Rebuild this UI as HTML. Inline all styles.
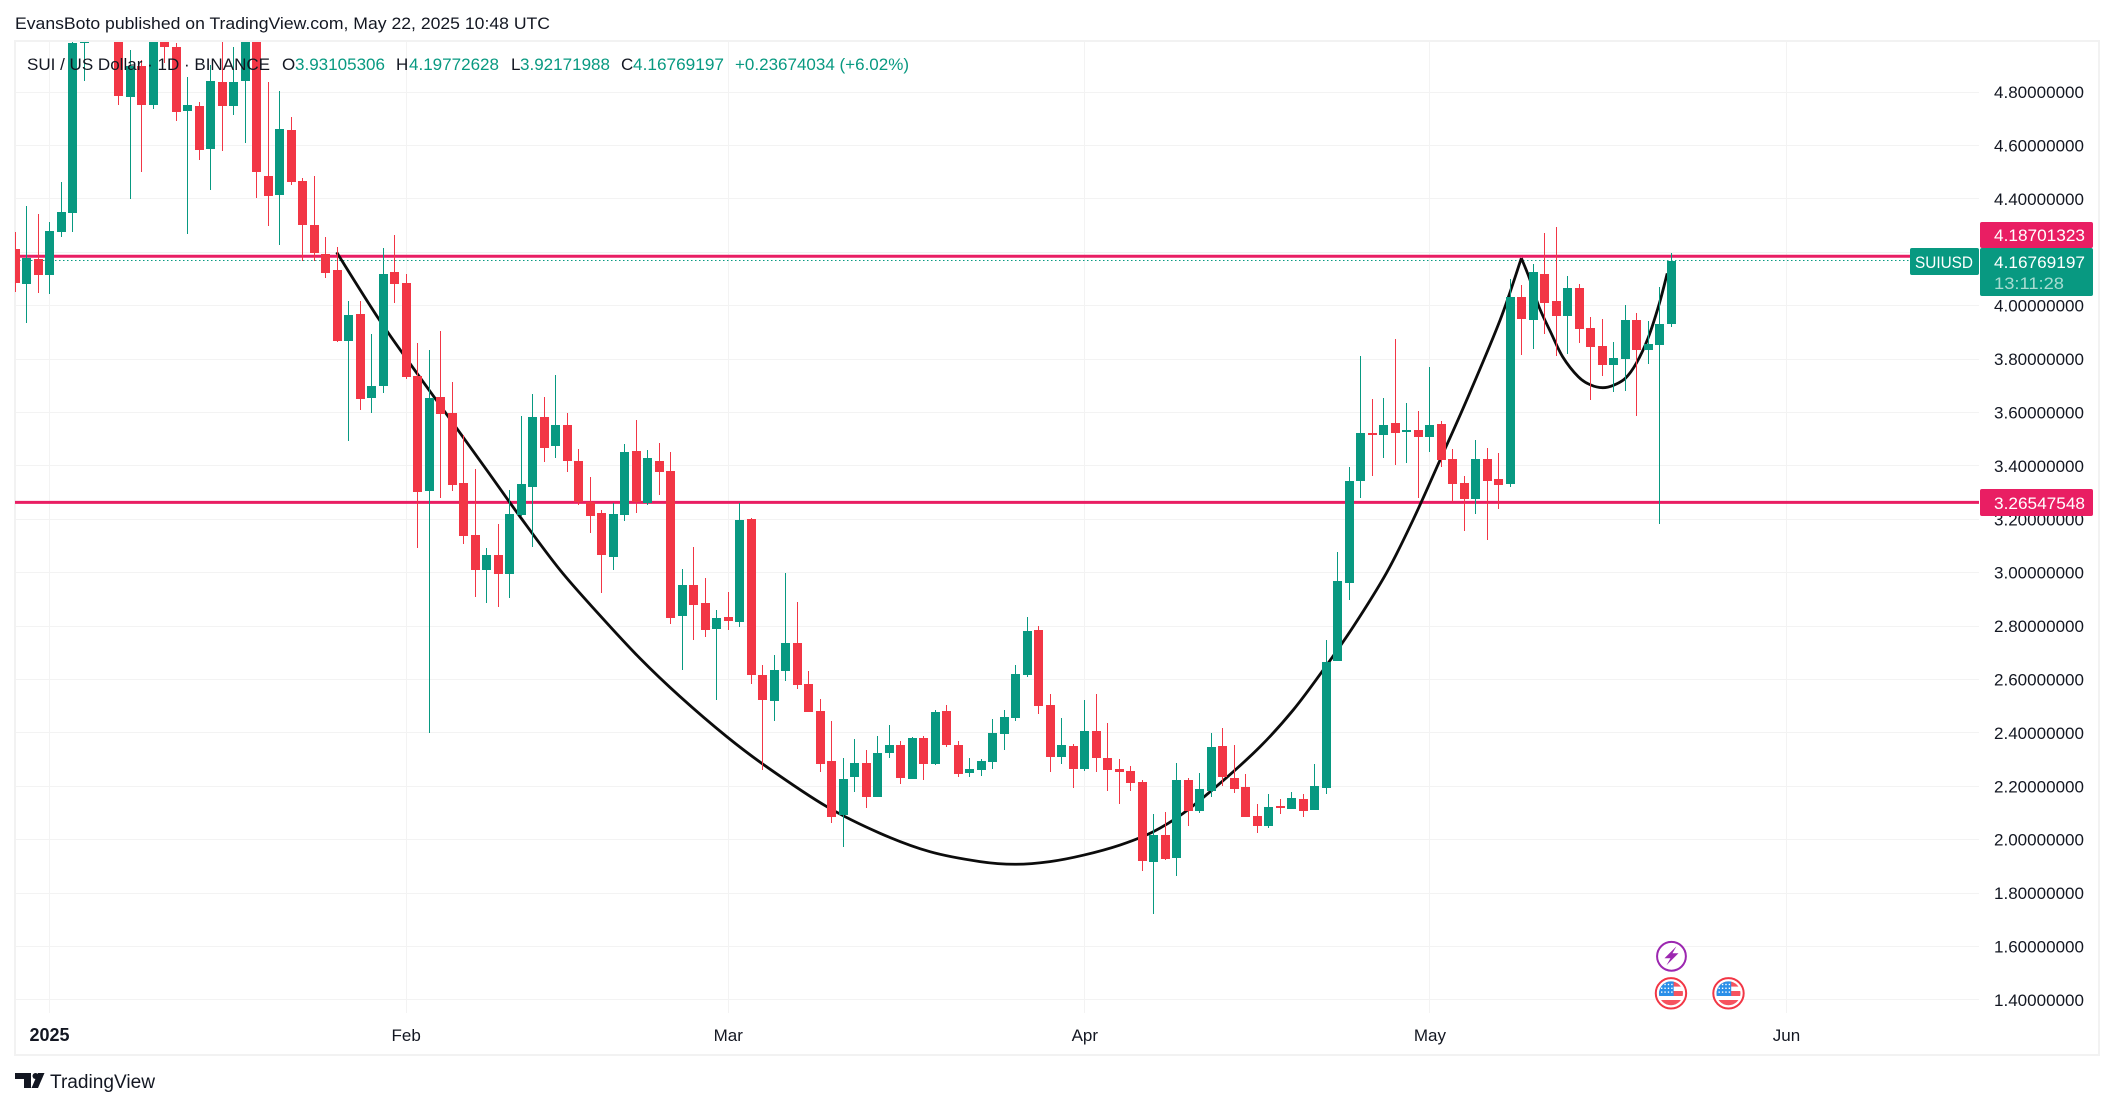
<!DOCTYPE html>
<html lang="en">
<head>
<meta charset="utf-8">
<title>SUI / US Dollar chart</title>
<style>
html,body{margin:0;padding:0;background:#fff;}
body{width:2114px;height:1108px;overflow:hidden;}
svg{display:block;}
text{font-family:"Liberation Sans",sans-serif;}
</style>
</head>
<body>
<svg id="chart" xmlns="http://www.w3.org/2000/svg" width="2114" height="1108" viewBox="0 0 2114 1108">
  <defs>
    <clipPath id="pane-clip"><rect x="15" y="42" width="1964" height="971"></rect></clipPath>
    <clipPath id="flag-clip"><circle cx="0" cy="0" r="12"></circle></clipPath>
  </defs>
  <text x="15" y="29" font-size="17" fill="#131722" textLength="535" lengthAdjust="spacingAndGlyphs">EvansBoto published on TradingView.com, May 22, 2025 10:48 UTC</text>
  <rect x="15" y="41" width="2084" height="1014" fill="#fff" stroke="#f2f2f2" stroke-width="2"></rect>
  <g id="grid"></g>
  <g clip-path="url(#pane-clip)">
    <g id="levels"></g>
    <g id="cup"></g>
    <g id="candles"></g>
  </g>
  <g id="events"></g>
  <g font-size="17">
    <text x="27" y="70" fill="#131722" textLength="243" lengthAdjust="spacingAndGlyphs">SUI / US Dollar · 1D · BINANCE</text>
    <text x="282" y="70" fill="#131722">O</text>
    <text x="295" y="70" fill="#089981" textLength="90" lengthAdjust="spacingAndGlyphs">3.93105306</text>
    <text x="396" y="70" fill="#131722">H</text>
    <text x="409" y="70" fill="#089981" textLength="90" lengthAdjust="spacingAndGlyphs">4.19772628</text>
    <text x="511" y="70" fill="#131722">L</text>
    <text x="520" y="70" fill="#089981" textLength="90" lengthAdjust="spacingAndGlyphs">3.92171988</text>
    <text x="621" y="70" fill="#131722">C</text>
    <text x="633" y="70" fill="#089981" textLength="91" lengthAdjust="spacingAndGlyphs">4.16769197</text>
    <text x="735" y="70" fill="#089981" textLength="174" lengthAdjust="spacingAndGlyphs">+0.23674034 (+6.02%)</text>
  </g>
  <g id="price-axis"></g>
  <g id="time-axis"></g>
  <g id="tags"></g>
  <g>
    <polygon points="15,1073 31,1073 31,1088 24,1088 24,1079 15,1079" fill="#131722"></polygon>
    <circle cx="35.5" cy="1076" r="3" fill="#131722"></circle>
    <polygon points="38,1073 44.5,1073 38,1088 31.5,1088" fill="#131722"></polygon>
    <text x="50" y="1088" font-size="19" fill="#131722" textLength="105" lengthAdjust="spacingAndGlyphs">TradingView</text>
  </g>
</svg>
<script>
var firstDay = -3;
var opens = [4.212,4.082,4.175,4.116,4.277,4.348,4.985,5.30,5.20,5.35,4.783,4.898,4.753,5.10,4.969,4.729,4.748,4.588,4.838,4.749,4.843,5.05,4.486,4.416,4.658,4.467,4.302,4.194,4.134,3.869,3.969,3.655,3.700,4.126,4.085,3.737,3.307,3.658,3.598,3.336,3.141,3.011,3.066,2.996,3.216,3.322,3.583,3.476,3.553,3.418,3.266,3.224,3.060,3.217,3.456,3.261,3.418,3.381,2.839,2.954,2.887,2.790,2.834,2.817,3.201,2.617,2.521,2.633,2.737,2.583,2.482,2.295,2.094,2.236,2.287,2.161,2.326,2.355,2.229,2.381,2.284,2.482,2.355,2.251,2.262,2.292,2.397,2.457,2.618,2.785,2.505,2.311,2.351,2.266,2.407,2.306,2.265,2.257,2.216,1.918,2.018,1.933,2.224,2.109,2.184,2.351,2.231,2.198,2.089,2.053,2.126,2.116,2.153,2.113,2.195,2.671,2.963,3.345,3.523,3.517,3.561,3.528,3.535,3.509,3.557,3.426,3.336,3.277,3.426,3.351,3.333,4.033,3.946,4.119,4.018,3.961,4.066,3.916,3.849,3.778,3.800,3.946,3.834,3.853,3.93105306];
var highs = [4.277,4.373,4.343,4.313,4.463,5.003,5.30,5.40,5.45,5.40,4.958,4.920,5.15,5.15,4.984,4.856,4.763,4.901,4.991,4.969,5.15,5.15,4.838,4.804,4.707,4.478,4.486,4.257,4.220,4.018,4.018,3.894,4.216,4.265,4.119,3.860,3.834,3.905,3.714,3.516,3.388,3.093,3.182,3.310,3.587,3.669,3.658,3.740,3.598,3.463,3.358,3.235,3.261,3.482,3.572,3.460,3.486,3.452,3.014,3.096,2.980,2.860,2.928,3.261,3.205,2.654,2.692,2.999,2.890,2.632,2.527,2.445,2.306,2.377,2.336,2.388,2.430,2.370,2.385,2.388,2.486,2.505,2.370,2.306,2.302,2.452,2.486,2.654,2.834,2.800,2.546,2.456,2.359,2.523,2.546,2.437,2.302,2.276,2.224,2.096,2.104,2.287,2.231,2.250,2.400,2.418,2.355,2.246,2.134,2.171,2.153,2.179,2.171,2.284,2.748,3.078,3.396,3.812,3.651,3.654,3.875,3.636,3.606,3.770,3.568,3.463,3.362,3.497,3.467,3.448,4.100,4.078,4.156,4.272,4.295,4.111,4.081,3.958,3.950,3.864,4.003,3.973,3.943,4.070,4.19772628];
var lows = [4.052,3.936,4.049,4.045,4.258,4.277,4.843,5.10,5.10,4.753,4.401,4.502,4.738,4.908,4.693,4.270,4.547,4.434,4.580,4.715,4.610,4.404,4.300,4.228,4.453,4.166,4.166,4.102,3.865,3.494,3.611,3.599,3.674,4.011,3.727,3.094,2.401,3.281,3.307,3.109,2.910,2.888,2.873,2.906,3.212,3.097,3.416,3.431,3.378,3.255,3.150,2.925,3.011,3.195,3.225,3.255,3.292,2.809,2.637,2.749,2.760,2.524,2.787,2.798,2.584,2.262,2.446,2.596,2.566,2.479,2.255,2.064,1.974,2.180,2.120,2.160,2.307,2.210,2.227,2.225,2.280,2.348,2.236,2.236,2.240,2.266,2.337,2.446,2.611,2.472,2.255,2.285,2.195,2.259,2.255,2.184,2.135,2.184,1.884,1.723,1.925,1.865,2.053,2.101,2.161,2.202,2.176,2.085,2.026,2.045,2.098,2.115,2.086,2.112,2.173,2.670,2.899,3.281,3.363,3.431,3.405,3.412,3.281,3.453,3.397,3.266,3.157,3.221,3.124,3.240,3.322,3.815,3.838,3.894,3.812,3.819,3.860,3.647,3.737,3.677,3.681,3.587,3.782,3.182,3.92171988];
var closes = [4.086,4.179,4.116,4.280,4.351,4.984,5.20,5.20,5.35,4.786,4.898,4.753,5.10,4.970,4.727,4.752,4.584,4.842,4.749,4.838,5.05,4.502,4.412,4.662,4.464,4.303,4.198,4.124,3.869,3.965,3.652,3.699,4.119,4.082,3.734,3.303,3.654,3.596,3.330,3.139,3.011,3.066,2.996,3.220,3.332,3.583,3.468,3.553,3.420,3.266,3.214,3.067,3.220,3.452,3.266,3.430,3.378,2.832,2.954,2.880,2.787,2.830,2.820,3.197,2.618,2.524,2.636,2.737,2.581,2.480,2.285,2.086,2.228,2.287,2.161,2.325,2.355,2.232,2.381,2.285,2.478,2.356,2.247,2.265,2.295,2.400,2.460,2.621,2.782,2.502,2.311,2.355,2.266,2.407,2.307,2.262,2.255,2.214,1.922,2.018,1.929,2.224,2.109,2.190,2.347,2.236,2.191,2.086,2.053,2.123,2.121,2.156,2.109,2.201,2.666,2.969,3.344,3.523,3.517,3.553,3.524,3.535,3.509,3.553,3.423,3.333,3.277,3.426,3.345,3.330,4.033,3.951,4.126,4.010,3.961,4.066,3.913,3.845,3.778,3.804,3.946,3.834,3.857,3.931,4.16769197];

var priceTicks = [4.8,4.6,4.4,4.2,4.0,3.8,3.6,3.4,3.2,3.0,2.8,2.6,2.4,2.2,2.0,1.8,1.6,1.4];
var priceTickLabels = ["4.80000000","4.60000000","4.40000000","4.20000000","4.00000000","3.80000000","3.60000000","3.40000000","3.20000000","3.00000000","2.80000000","2.60000000","2.40000000","2.20000000","2.00000000","1.80000000","1.60000000","1.40000000"];
var timeTickDays = [0,31,59,90,120,151];
var timeTickLabels = ["2025","Feb","Mar","Apr","May","Jun"];

var resistancePrice = 4.18701323;
var supportPrice = 3.26547548;
var lastPrice = 4.16769197;

var cupDays = [24.96,28.58,31.42,34.81,38.0,40.9,44.38,47.85,51.33,54.81,58.87,62.34,67.56,72.2,76.54,80.89,83.93,86.97,89.87,93.06,95.95,98.56,101.75,105.23,108.12,110.73,113.34,116.25,118.56,120.88,123.2,126.1,127.95];
var cupPrices = [4.2,3.953,3.778,3.576,3.385,3.21,3.01,2.84,2.679,2.536,2.386,2.273,2.124,2.024,1.955,1.918,1.908,1.918,1.942,1.98,2.03,2.099,2.211,2.348,2.486,2.636,2.798,3.001,3.2,3.422,3.647,3.946,4.178];
var handleDays = [127.95,128.65,129.48,130.53,131.54,132.9,133.99,135.02,135.96,136.99,137.94,138.96,139.95,140.63];
var handlePrices = [4.178,4.103,3.996,3.898,3.809,3.734,3.703,3.693,3.702,3.728,3.784,3.878,4.009,4.121];

var flagEventDays = [141,146];
var lightningEventDays = [141];

var NS = "http://www.w3.org/2000/svg";
var GREEN = "#089981", RED = "#F23645", PINK = "#E91E63";

function xScale(day){ return 49.55 + 11.503 * day; }
function yScale(price){ return 305.7 + (4 - price) * 267; }
function make(tag, parent){
  var el = document.createElementNS(NS, tag);
  parent.appendChild(el);
  return el;
}
function attr(el, pairs){
  for (var k in pairs) el.setAttribute(k, pairs[k]);
  return el;
}

/* grid */
var grid = document.getElementById("grid");
priceTicks.forEach(function(p){
  var y = Math.floor(yScale(p)) + 0.5;
  var line = make("line", grid);
  
  
  attr(line, {x1:16, x2:1979, y1:y, y2:y, stroke:"#f3f3f3", "stroke-width":1, "shape-rendering":"crispEdges"});
});
timeTickDays.forEach(function(d){
  var x = Math.floor(xScale(d)) + 0.5;
  var line = make("line", grid);
  
  
  attr(line, {x1:x, x2:x, y1:42, y2:1013, stroke:"#f3f3f3", "stroke-width":1, "shape-rendering":"crispEdges"});
});

/* levels */
var levels = document.getElementById("levels");
var resLine = make("line", levels);


attr(resLine, {x1:15, x2:1979, y1:yScale(resistancePrice)+0.5, y2:yScale(resistancePrice)+0.5, stroke:PINK, "stroke-width":3});
var supLine = make("line", levels);


attr(supLine, {x1:15, x2:1979, y1:yScale(supportPrice)+0.5, y2:yScale(supportPrice)+0.5, stroke:PINK, "stroke-width":3});
var lastLine = make("line", levels);


var lastY = Math.floor(yScale(lastPrice)) + 0.5;
attr(lastLine, {x1:15, x2:1910, y1:lastY, y2:lastY, stroke:GREEN, "stroke-width":1, "stroke-dasharray":"1.5 2.5"});

/* cup curve */
function smoothPath(days, prices){
  var pts = days.map(function(d,i){ return [xScale(d), yScale(prices[i])]; });
  var s = "M" + pts[0][0].toFixed(2) + " " + pts[0][1].toFixed(2);
  for (var i = 0; i < pts.length - 1; i++){
    var p0 = pts[Math.max(0,i-1)], p1 = pts[i], p2 = pts[i+1], p3 = pts[Math.min(pts.length-1,i+2)];
    var c1x = p1[0] + (p2[0]-p0[0])/6, c1y = p1[1] + (p2[1]-p0[1])/6;
    var c2x = p2[0] - (p3[0]-p1[0])/6, c2y = p2[1] - (p3[1]-p1[1])/6;
    s += " C" + c1x.toFixed(2) + " " + c1y.toFixed(2) + " " + c2x.toFixed(2) + " " + c2y.toFixed(2) + " " + p2[0].toFixed(2) + " " + p2[1].toFixed(2);
  }
  return s;
}
var cup = document.getElementById("cup");
var cupPath = make("path", cup);


attr(cupPath, {d:smoothPath(cupDays, cupPrices), fill:"none", stroke:"#0c0c0c", "stroke-width":2.8, "stroke-linejoin":"round"});
var handlePath = make("path", cup);


attr(handlePath, {d:smoothPath(handleDays, handlePrices), fill:"none", stroke:"#0c0c0c", "stroke-width":2.8, "stroke-linejoin":"round"});

/* candles */
var candles = document.getElementById("candles");
opens.forEach(function(o, i){
  var c = closes[i], h = highs[i], l = lows[i];
  var up = c >= o;
  var col = up ? GREEN : RED;
  var xc = Math.floor(xScale(firstDay + i));
  var g = make("g", candles);
  
  
  var yh = Math.round(yScale(h)), yl = Math.round(yScale(l));
  var wick = make("rect", g);
  
  
  attr(wick, {x:xc, y:yh, width:1, height:Math.max(1, yl-yh), fill:col, "shape-rendering":"crispEdges"});
  var yt = Math.round(yScale(Math.max(o,c))), yb = Math.round(yScale(Math.min(o,c)));
  var body = make("rect", g);
  
  
  attr(body, {x:xc-4, y:yt, width:9, height:Math.max(2, yb-yt), fill:col, "shape-rendering":"crispEdges"});
});

/* price axis */
var pa = document.getElementById("price-axis");
priceTicks.forEach(function(p, i){
  var t = make("text", pa);
  
  
  attr(t, {x:1994, y:yScale(p)+6, "font-size":17, fill:"#131722", textLength:90, lengthAdjust:"spacingAndGlyphs"});
  t.textContent = priceTickLabels[i];
});

/* time axis */
var ta = document.getElementById("time-axis");
timeTickDays.forEach(function(d, i){
  var t = make("text", ta);
  
  
  attr(t, {x:xScale(d), y:1041, "font-size":i === 0 ? 18 : 17, "font-weight":i === 0 ? 700 : 400, fill:"#131722", "text-anchor":"middle"});
  t.textContent = timeTickLabels[i];
});

/* price tags */
var tags = document.getElementById("tags");
function tagBox(parent, name, x, y, w, h, fill){
  var r = make("rect", parent);
  
  
  attr(r, {x:x, y:y, width:w, height:h, rx:2, fill:fill});
}
function tagText(parent, name, x, y, str, fill, width){
  var t = make("text", parent);
  
  
  attr(t, {x:x, y:y, "font-size":17, fill:fill, textLength:width, lengthAdjust:"spacingAndGlyphs"});
  t.textContent = str;
}
tagBox(tags, 'resistance-price-tag', 1980, 222, 113, 26, PINK);
tagText(tags, 'resistance-price-text', 1994, 241, resistancePrice.toFixed(8), "#fff", 91);
tagBox(tags, 'symbol-name-tag', 1910, 248, 69, 27, GREEN);
tagText(tags, 'symbol-name-text', 1915, 268, "SUIUSD", "#fff", 58);
tagBox(tags, 'last-price-tag', 1980, 248, 113, 48, GREEN);
tagText(tags, 'last-price-text', 1994, 268, lastPrice.toFixed(8), "#fff", 91);
tagText(tags, 'countdown-text', 1994, 289, "13:11:28", "#a8dcd1", 70);
tagBox(tags, 'support-price-tag', 1980, 489, 113, 27, PINK);
tagText(tags, 'support-price-text', 1994, 509, supportPrice.toFixed(8), "#fff", 91);

/* events */
var ev = document.getElementById("events");
lightningEventDays.forEach(function(d){
  var g = make("g", ev);
  
  
  g.setAttribute('transform', 'translate(' + (xScale(d)) + ' 956.3)');
  var ring = make("circle", g);
  
  
  attr(ring, {r:14.4, fill:"#fff", stroke:"#9c27b0", "stroke-width":2});
  var bolt = make("polygon", g);
  
  
  attr(bolt, {points:"5,-10 -7,2 -1,2 -5,9 7,-3 1,-3", fill:"#9c27b0"});
});
flagEventDays.forEach(function(d){
  var g = make("g", ev);
  
  
  g.setAttribute('transform', 'translate(' + (xScale(d) - 0.5) + ' 993.3)');
  var ring = make("circle", g);
  
  
  attr(ring, {r:15.2, fill:"#fff", stroke:"#F23645", "stroke-width":2});
  var flag = make("g", g);
  
  
  flag.setAttribute('clip-path', 'url(#flag-clip)');
  var stripeTops = [-12, -2.3, 6.7];
  var stripeHeights = [5.3, 5, 6];
  stripeTops.forEach(function(top, k){
    var s = make("rect", flag);
    
    
    attr(s, {x:-13, y:top, width:26, height:stripeHeights[k], fill:"#F6535F"});
  });
  var canton = make("rect", flag);
  
  
  attr(canton, {x:-13, y:-12, width:15.7, height:14.7, fill:"#2a8fe8"});
  for (var r = 0; r < 3; r++){
    for (var c = 0; c < 4; c++){
      var star = make("rect", flag);
      
      
      attr(star, {x:-10 + c*3.4, y:-9.5 + r*3.8, width:1.4, height:1.4, fill:"#fff"});
    }
  }
});
</script>
</body>
</html>
